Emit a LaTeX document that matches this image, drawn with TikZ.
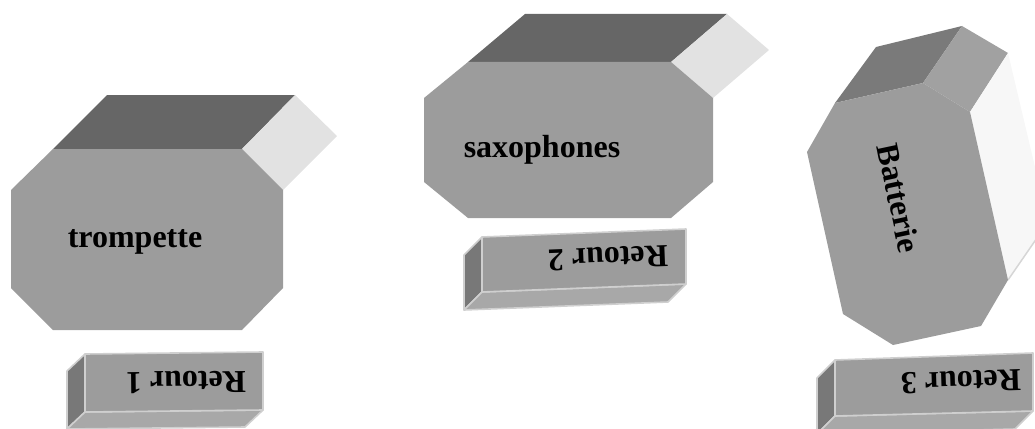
\documentclass[tikz,border=0pt]{standalone}
\usepackage{fontspec}
\setmainfont{Liberation Serif}
\definecolor{frontgray}{HTML}{9C9C9C}
\definecolor{topgray}{HTML}{666666}
\definecolor{sidegray}{HTML}{E2E2E2}
\definecolor{rimgray}{HTML}{CFCFCF}
\tikzstyle{front face} = [fill=frontgray]
\tikzstyle{top face}   = [fill=topgray]
\tikzstyle{side face}  = [fill=sidegray]
\tikzstyle{label text} = [inner sep=0, font=\fontsize{32}{38}\selectfont\bfseries]

\begin{document}
\begin{tikzpicture}[x=1pt, y=-1pt, line join=round]
\tikzstyle{retour front}  = [fill=frontgray, draw=rimgray, line width=1.6pt]
\tikzstyle{retour left}   = [fill=black!53, draw=rimgray, line width=1.6pt]
\tikzstyle{retour bottom} = [fill=black!34, draw=rimgray, line width=1.6pt]

    \useasboundingbox (0,0) rectangle (1035,428);
    \clip (0,0) rectangle (1035,428);

    % trompette
    \fill[top face]  (53,149) -- (107,95) -- (295,95) -- (242,149) -- cycle;
    \fill[side face] (242,149) -- (295,95) -- (337,136) -- (283,190) -- cycle;
    \fill[front face] (53,149) -- (242,149) -- (283,190) -- (283,288) -- (242,330)
        -- (53,330) -- (11,288) -- (11,190) -- cycle;
    \node(trompette)[label text, anchor=base] at (135,247) {trompette};

    % saxophones
    \fill[top face]  (468,62) -- (525,14) -- (727,14) -- (671,62) -- cycle;
    \fill[side face] (671,62) -- (727,14) -- (769,50) -- (713,98) -- cycle;
    \fill[front face] (468,62) -- (671,62) -- (713,98) -- (713,182) -- (671,218)
        -- (468,218) -- (424,182) -- (424,98) -- cycle;
    \node(saxo)[label text, anchor=base] at (542,157) {saxophones};

    % Batterie
    \fill[black!52] (835,103) -- (876,47) -- (962,26) -- (923,83) -- cycle;
    \fill[black!37] (923,83) -- (962,26) -- (1008,53) -- (970,112) -- cycle;
    \fill[black!3]  (970,112) -- (1008,53) -- (1048,222) -- (1008,280) -- cycle;
    \draw[black!16, line width=1.5pt] (1008,280) -- (1048,222);
    \fill[front face] (835,103) -- (923,83) -- (970,112) -- (1008,280) -- (981,326)
        -- (893,345) -- (843,314) -- (807,152) -- cycle;
    \node(batterie)[label text, rotate=-78] at (899,198) {Batterie};

    % Retour 1
    \filldraw[retour left]   (85,354) -- (67,371) -- (67,429) -- (85,412) -- cycle;
    \filldraw[retour bottom] (85,412) -- (263,410) -- (245,427) -- (67,429) -- cycle;
    \filldraw[retour front]  (85,354) -- (263,352) -- (263,410) -- (85,412) -- cycle;
    \node(retour1)[label text, rotate=180.6] at (186,382) {Retour 1};

    % Retour 2
    \filldraw[retour left]   (482,237) -- (464,255) -- (464,310) -- (482,292) -- cycle;
    \filldraw[retour bottom] (482,292) -- (686,284) -- (668,302) -- (464,310) -- cycle;
    \filldraw[retour front]  (482,237) -- (686,229) -- (686,284) -- (482,292) -- cycle;
    \node(retour2)[label text, rotate=182.2] at (608,258) {Retour 2};

    % Retour 3
    \filldraw[retour left]   (835,360) -- (817,378) -- (817,434) -- (835,416) -- cycle;
    \filldraw[retour bottom] (835,416) -- (1033,411) -- (1015,429) -- (817,434) -- cycle;
    \filldraw[retour front]  (835,360) -- (1033,353) -- (1033,411) -- (835,416) -- cycle;
    \node(retour3)[label text, rotate=181.8] at (961,382) {Retour 3};

\end{tikzpicture}
\end{document}
